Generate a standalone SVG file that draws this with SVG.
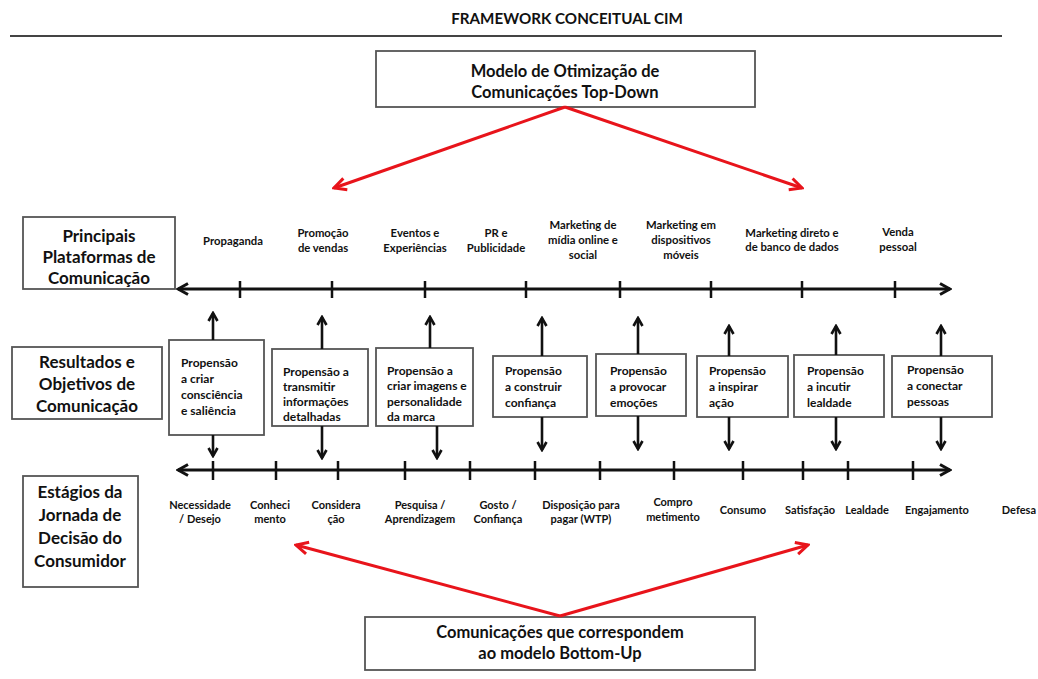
<svg xmlns="http://www.w3.org/2000/svg" width="1038" height="679" viewBox="0 0 1038 679">
<defs>
<style>
text{font-family:Lato,"Open Sans","Liberation Sans",sans-serif;font-weight:bold;fill:#111}
.t{font-size:16.5px;text-anchor:middle}
.h{font-size:17px;text-anchor:middle}
.p{font-size:11.3px;text-anchor:middle}
.b{font-size:12px}
.s{font-size:11px;text-anchor:middle}
.box{fill:#fff;stroke:#555;stroke-width:1.8}
.ax{stroke:#111;stroke-width:3;fill:none;marker-start:url(#ch);marker-end:url(#ch)}
.tk{stroke:#111;stroke-width:2.5}
.va{stroke:#111;stroke-width:2.6;fill:none;marker-end:url(#ch2)}
.red{stroke:#e8141b;stroke-width:3;fill:none}
</style>
<marker id="ch" viewBox="0 0 14 14" refX="12" refY="7" markerWidth="14" markerHeight="14" markerUnits="userSpaceOnUse" orient="auto-start-reverse">
<path d="M2,1.5 L12,7 L2,12.5" fill="none" stroke="#111" stroke-width="3"/>
</marker>
<marker id="ch2" viewBox="0 0 12 12" refX="10" refY="6" markerWidth="12" markerHeight="12" markerUnits="userSpaceOnUse" orient="auto">
<path d="M2,1.5 L10,6 L2,10.5" fill="none" stroke="#111" stroke-width="2.6"/>
</marker>
<marker id="rch" viewBox="0 0 16 16" refX="14" refY="8" markerWidth="16" markerHeight="16" markerUnits="userSpaceOnUse" orient="auto">
<path d="M2,2 L14,8 L2,14" fill="none" stroke="#e8141b" stroke-width="3"/>
</marker>
</defs>
<rect width="1038" height="679" fill="#fff"/>
<text x="567" y="24" style="font-size:15.2px" text-anchor="middle">FRAMEWORK CONCEITUAL CIM</text>
<line x1="10" y1="36" x2="1002" y2="36" stroke="#444" stroke-width="2"/>

<g id="top-model">
<rect class="box" x="376" y="51" width="379" height="56"/>
<text class="t" x="565" y="77">Modelo de Otimização de</text>
<text class="t" x="565" y="98">Comunicações Top-Down</text>
</g>

<g id="label-plataformas">
<rect class="box" x="23" y="217" width="152" height="72"/>
<text class="h" x="99" y="242">Principais</text>
<text class="h" x="99" y="263">Plataformas de</text>
<text class="h" x="99" y="284">Comunicação</text>
</g>

<g id="label-resultados">
<rect class="box" x="12" y="347" width="150" height="72"/>
<text class="h" x="87" y="368">Resultados e</text>
<text class="h" x="87" y="390">Objetivos de</text>
<text class="h" x="87" y="412">Comunicação</text>
</g>

<g id="label-estagios">
<rect class="box" x="23" y="476" width="115" height="111"/>
<text class="h" x="80" y="498">Estágios da</text>
<text class="h" x="80" y="521">Jornada de</text>
<text class="h" x="80" y="544">Decisão do</text>
<text class="h" x="80" y="567">Consumidor</text>
</g>

<g id="bottom-model">
<rect class="box" x="365" y="617" width="390" height="53"/>
<text class="t" x="560" y="638">Comunicações que correspondem</text>
<text class="t" x="560" y="659">ao modelo Bottom-Up</text>
</g>

<g id="platforms">
<text class="p" x="233" y="245">Propaganda</text>
<text class="p" x="323" y="237">Promoção</text><text class="p" x="323" y="252">de vendas</text>
<text class="p" x="415" y="237">Eventos e</text><text class="p" x="415" y="252">Experiências</text>
<text class="p" x="496" y="237">PR e</text><text class="p" x="496" y="252">Publicidade</text>
<text class="p" x="583" y="229">Marketing de</text><text class="p" x="583" y="244">mídia online e</text><text class="p" x="583" y="259">social</text>
<text class="p" x="681" y="229">Marketing em</text><text class="p" x="681" y="244">dispositivos</text><text class="p" x="681" y="259">móveis</text>
<text class="p" x="792" y="237">Marketing direto e</text><text class="p" x="792" y="251">de banco de dados</text>
<text class="p" x="898" y="236">Venda</text><text class="p" x="898" y="251">pessoal</text>
</g>

<g id="obj1"><rect class="box" x="169" y="340" width="95" height="95"/>
<text class="b" x="181" y="367">Propensão</text><text class="b" x="181" y="383">a criar</text><text class="b" x="181" y="399">consciência</text><text class="b" x="181" y="415">e saliência</text></g>
<g id="obj2"><rect class="box" x="272" y="349" width="96" height="77"/>
<text class="b" x="283" y="376">Propensão a</text><text class="b" x="283" y="391">transmitir</text><text class="b" x="283" y="406">informações</text><text class="b" x="283" y="421">detalhadas</text></g>
<g id="obj3"><rect class="box" x="376" y="348" width="97" height="78"/>
<text class="b" x="387" y="375">Propensão a</text><text class="b" x="387" y="390">criar imagens e</text><text class="b" x="387" y="406">personalidade</text><text class="b" x="387" y="421">da marca</text></g>
<g id="obj4"><rect class="box" x="493" y="356" width="94" height="61"/>
<text class="b" x="505" y="375">Propensão</text><text class="b" x="505" y="391">a construir</text><text class="b" x="505" y="407">confiança</text></g>
<g id="obj5"><rect class="box" x="596" y="354" width="90" height="62"/>
<text class="b" x="610" y="375">Propensão</text><text class="b" x="610" y="391">a provocar</text><text class="b" x="610" y="407">emoções</text></g>
<g id="obj6"><rect class="box" x="697" y="356" width="91" height="61"/>
<text class="b" x="709" y="375">Propensão</text><text class="b" x="709" y="391">a inspirar</text><text class="b" x="709" y="407">ação</text></g>
<g id="obj7"><rect class="box" x="794" y="355" width="90" height="62"/>
<text class="b" x="807" y="375">Propensão</text><text class="b" x="807" y="391">a incutir</text><text class="b" x="807" y="407">lealdade</text></g>
<g id="obj8"><rect class="box" x="892" y="356" width="100" height="61"/>
<text class="b" x="907" y="374">Propensão</text><text class="b" x="907" y="390">a conectar</text><text class="b" x="907" y="406">pessoas</text></g>

<g id="stages">
<text class="s" x="200" y="509">Necessidade</text><text class="s" x="200" y="523">/ Desejo</text>
<text class="s" x="270" y="509">Conheci</text><text class="s" x="270" y="523">mento</text>
<text class="s" x="336" y="509">Considera</text><text class="s" x="336" y="523">ção</text>
<text class="s" x="420" y="509">Pesquisa /</text><text class="s" x="420" y="523">Aprendizagem</text>
<text class="s" x="498" y="509">Gosto /</text><text class="s" x="498" y="523">Confiança</text>
<text class="s" x="581" y="509">Disposição para</text><text class="s" x="581" y="523">pagar (WTP)</text>
<text class="s" x="673" y="506">Compro</text><text class="s" x="673" y="521">metimento</text>
<text class="s" x="743" y="514">Consumo</text>
<text class="s" x="810" y="514">Satisfação</text>
<text class="s" x="867" y="514">Lealdade</text>
<text class="s" x="937" y="514">Engajamento</text>
<text class="s" x="1036" y="514" style="text-anchor:end">Defesa</text>
</g>

<g id="connectors">
<line class="ax" x1="178" y1="289" x2="950" y2="289"/>
<path class="tk" d="M240,281V298M332,281V298M425,281V298M526,281V298M620,281V298M711,281V298M802,281V298M895,281V298"/>
<line class="ax" x1="178" y1="470" x2="950" y2="470"/>
<path class="tk" d="M213,461V480M276,461V480M338,461V480M405,461V480M470,461V480M535,461V480M600,461V480M674,461V480M743,461V480M803,461V480M848,461V480M913,461V480"/>
<line class="va" x1="213" y1="340" x2="213" y2="313"/>
<line class="va" x1="213" y1="435" x2="213" y2="456"/>
<line class="va" x1="322" y1="349" x2="322" y2="317"/>
<line class="va" x1="322" y1="426" x2="322" y2="458"/>
<line class="va" x1="430" y1="348" x2="430" y2="317"/>
<line class="va" x1="437" y1="426" x2="437" y2="458"/>
<line class="va" x1="542" y1="356" x2="542" y2="318"/>
<line class="va" x1="542" y1="417" x2="542" y2="450"/>
<line class="va" x1="638" y1="354" x2="638" y2="318"/>
<line class="va" x1="638" y1="416" x2="638" y2="449"/>
<line class="va" x1="729" y1="356" x2="729" y2="326"/>
<line class="va" x1="729" y1="417" x2="729" y2="449"/>
<line class="va" x1="836" y1="355" x2="836" y2="326"/>
<line class="va" x1="836" y1="417" x2="836" y2="449"/>
<line class="va" x1="941" y1="356" x2="941" y2="326"/>
<line class="va" x1="941" y1="417" x2="941" y2="449"/>
<line class="red" x1="565" y1="107" x2="334" y2="188" marker-end="url(#rch)"/>
<line class="red" x1="565" y1="107" x2="802" y2="188" marker-end="url(#rch)"/>
<line class="red" x1="560" y1="616" x2="296" y2="545" marker-end="url(#rch)"/>
<line class="red" x1="560" y1="616" x2="808" y2="545" marker-end="url(#rch)"/>
</g>
</svg>
